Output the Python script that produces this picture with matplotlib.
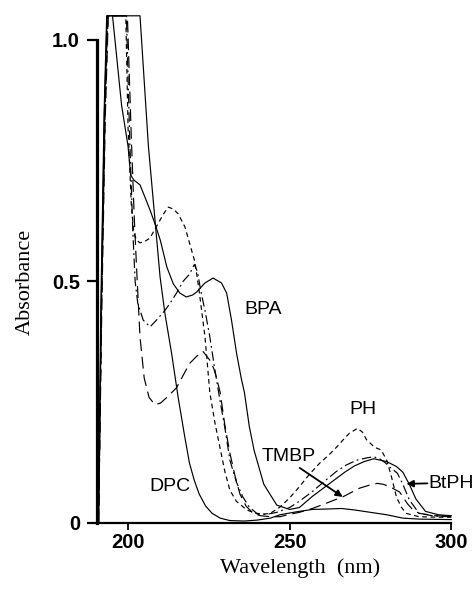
import matplotlib
matplotlib.use("Agg")
import matplotlib.pyplot as plt

# ---------------- data ----------------
dpc_x = [190.8, 191.6, 192.6, 193.4, 203.7, 206.3, 209.9, 211.4, 213.5, 215.5, 217.5, 219.0, 220.5, 222.0,
         224.0, 226.0, 228.5, 231.5, 236.0, 240.0, 244.0, 247.0, 252.0, 257.0, 262.0, 266.0,
         270.0, 274.0, 280.0, 285.0, 290.0, 300.0]
dpc_y = [0.0, 0.45, 0.85, 1.05, 1.05, 0.78, 0.51, 0.434, 0.35, 0.26, 0.18, 0.124, 0.088, 0.06,
         0.035, 0.02, 0.01, 0.005, 0.004, 0.006, 0.01, 0.017, 0.023, 0.028, 0.029, 0.03,
         0.027, 0.023, 0.017, 0.01, 0.008, 0.007]

bpa_x = [190.9, 191.7, 192.7, 193.5, 195.2, 198.0, 200.0, 200.8, 201.8, 203.7, 205.2, 206.8, 208.3, 210.0,
         212.0, 214.0, 216.0, 218.0, 220.0, 221.2, 223.8, 226.3, 228.9, 230.5, 232.0, 233.6,
         235.0, 236.0, 237.5, 239.0, 242.0, 246.0, 250.0, 253.0, 257.0, 260.0, 264.0, 267.0,
         270.0, 273.0, 276.0, 280.0, 283.0, 285.0, 287.0, 289.0, 292.0, 296.0, 300.0]
bpa_y = [0.0, 0.45, 0.85, 1.05, 1.05, 0.865, 0.78, 0.72, 0.71, 0.70, 0.675, 0.648, 0.62, 0.585,
         0.53, 0.495, 0.476, 0.468, 0.472, 0.478, 0.497, 0.507, 0.497, 0.476, 0.42, 0.35,
         0.30, 0.27, 0.2, 0.15, 0.08, 0.037, 0.028, 0.032, 0.055, 0.07, 0.09, 0.105,
         0.118, 0.127, 0.133, 0.127, 0.117, 0.105, 0.08, 0.05, 0.024, 0.017, 0.015]

ph_x = [190.9, 191.8, 192.8, 193.7, 199.3, 200.0, 201.0, 201.8, 202.7, 203.7, 205.0, 206.8, 209.3, 211.0,
        212.4, 214.0, 215.5, 217.6, 219.0, 220.7, 222.0, 223.8, 225.3, 226.8, 228.4, 230.0,
        231.5, 233.5, 236.7, 240.7, 244.0, 247.0, 250.0, 253.0, 256.0, 259.3, 262.0, 264.5,
        266.5, 268.5, 271.0, 272.5, 273.8, 276.2, 278.3, 280.0, 281.5, 283.0, 284.5, 286.0,
        290.0, 295.0, 300.0]
ph_y = [0.0, 0.45, 0.85, 1.05, 1.05, 0.82, 0.66, 0.60, 0.585, 0.58, 0.582, 0.59, 0.62, 0.64,
        0.654, 0.65, 0.64, 0.613, 0.58, 0.54, 0.48, 0.385, 0.27, 0.21, 0.157, 0.105,
        0.068, 0.045, 0.027, 0.017, 0.02, 0.033, 0.052, 0.075, 0.1, 0.124, 0.14, 0.157,
        0.172, 0.186, 0.196, 0.188, 0.172, 0.157, 0.151, 0.13, 0.095, 0.054, 0.033, 0.02,
        0.013, 0.012, 0.012]

btph_x = [190.9, 191.8, 192.9, 193.8, 199.5, 200.5, 201.5, 202.2, 203.0, 204.7, 206.8, 208.8, 211.4, 213.0,
          215.0, 217.0, 219.0, 220.5, 221.5, 222.5, 223.8, 225.3, 226.8, 228.4, 230.0, 231.5,
          233.5, 235.5, 237.5, 239.8, 243.0, 246.0, 250.0, 253.0, 257.0, 260.5, 264.5, 267.5,
          270.7, 274.0, 276.0, 277.8, 279.5, 280.9, 283.3, 285.0, 287.0, 290.0, 295.0, 300.0]
btph_y = [0.0, 0.45, 0.85, 1.05, 1.05, 0.8, 0.6, 0.5, 0.455, 0.42, 0.406, 0.42, 0.44, 0.455,
          0.476, 0.50, 0.515, 0.535, 0.52, 0.48, 0.44, 0.385, 0.32, 0.255, 0.195, 0.13,
          0.085, 0.054, 0.033, 0.02, 0.018, 0.022, 0.032, 0.045, 0.065, 0.085, 0.107, 0.12,
          0.13, 0.135, 0.137, 0.133, 0.125, 0.116, 0.103, 0.08, 0.048, 0.02, 0.014, 0.013]

tmbp_x = [190.9, 191.9, 193.0, 193.9, 199.8, 201.0, 202.0, 202.7, 203.7, 205.0, 206.5, 208.3, 210.0, 212.0,
          215.0, 217.0, 219.0, 221.2, 223.2, 225.3, 226.5, 227.4, 228.5, 230.0, 231.5, 233.0,
          234.6, 236.5, 238.7, 241.0, 244.0, 247.0, 250.0, 253.0, 257.0, 261.0, 264.0, 266.4,
          269.0, 271.6, 274.5, 277.0, 279.0, 281.0, 284.0, 286.4, 288.0, 290.0, 295.0, 300.0]
tmbp_y = [0.0, 0.45, 0.85, 1.05, 1.05, 0.8, 0.62, 0.52, 0.385, 0.3, 0.26, 0.245, 0.248, 0.26,
          0.28, 0.305, 0.33, 0.345, 0.355, 0.337, 0.32, 0.3, 0.27, 0.2, 0.145, 0.1,
          0.06, 0.035, 0.02, 0.015, 0.013, 0.013, 0.018, 0.022, 0.03, 0.04, 0.048, 0.054,
          0.063, 0.072, 0.078, 0.082, 0.08, 0.075, 0.064, 0.04, 0.028, 0.02, 0.015, 0.014]

x_ticks = [200, 250, 300]
y_ticks = [0, 0.5, 1.0]
y_ticklabels = ["0", "0.5", "1.0"]

labels = ["BPA", "PH", "TMBP", "DPC", "BtPH"]
label_pos = [(241.7, 0.441), (272.8, 0.234), (249.7, 0.137), (213.0, 0.075), (293.0, 0.081)]

# ---------------- figure ----------------
fig = plt.figure(figsize=(4.76, 5.91), dpi=100)
ax = fig.add_axes([0.2031, 0.1151, 0.7465, 0.8745])
ax.set_xlim(190.3, 300.2)
ax.set_ylim(0, 1.07)

lw = 0.85
ax.plot(dpc_x, dpc_y, color="black", lw=lw, solid_joinstyle="round")
ax.plot(bpa_x, bpa_y, color="black", lw=lw, solid_joinstyle="round")
ax.plot(ph_x, ph_y, color="black", lw=lw, dashes=(4, 3))
ax.plot(btph_x, btph_y, color="black", lw=lw, dashes=(8, 3, 1.5, 3))
ax.plot(tmbp_x, tmbp_y, color="black", lw=lw, dashes=(10, 5))

for s in ["top", "right"]:
    ax.spines[s].set_visible(False)
ax.spines["left"].set_linewidth(2.3)
ax.spines["left"].set_bounds(0, 1.0)
ax.spines["bottom"].set_linewidth(1.6)
ax.spines["bottom"].set_bounds(190.3, 300)

sans = "Liberation Sans"
ax.set_yticks(y_ticks)
ax.set_yticklabels(y_ticklabels, fontfamily=sans, fontweight="bold", fontsize=14.5)
ax.set_xticks(x_ticks)
ax.set_xticklabels([str(t) for t in x_ticks], fontfamily=sans, fontweight="bold", fontsize=14.5)
ax.tick_params(axis="y", direction="out", length=7, width=1.6, pad=5)
ax.tick_params(axis="x", direction="out", length=5, width=1.3, pad=2)

for (txt, (lx, ly)) in zip(labels, label_pos):
    ha = "left" if txt == "BtPH" else "center"
    ax.text(lx, ly, txt, fontfamily=sans, fontsize=14, ha=ha, va="center", clip_on=False)

ax.annotate("", xy=(266.4, 0.054), xytext=(253.1, 0.114),
            arrowprops=dict(arrowstyle="-|>", color="black", lw=1.3,
                            mutation_scale=10, shrinkA=0, shrinkB=0))
ax.annotate("", xy=(286.1, 0.081), xytext=(292.6, 0.082),
            arrowprops=dict(arrowstyle="-|>", color="black", lw=1.3,
                            mutation_scale=10, shrinkA=0, shrinkB=0))

serif = "Liberation Serif"
fig.text(300 / 476, 1 - 568 / 591, "Wavelength  (nm)", fontfamily=serif, fontsize=16,
         ha="center", va="center")
fig.text(25 / 476, 1 - 282 / 591, "Absorbance", fontfamily=serif, fontsize=16,
         ha="center", va="center", rotation=90)

fig.savefig("out.png", dpi=100, facecolor="white")
